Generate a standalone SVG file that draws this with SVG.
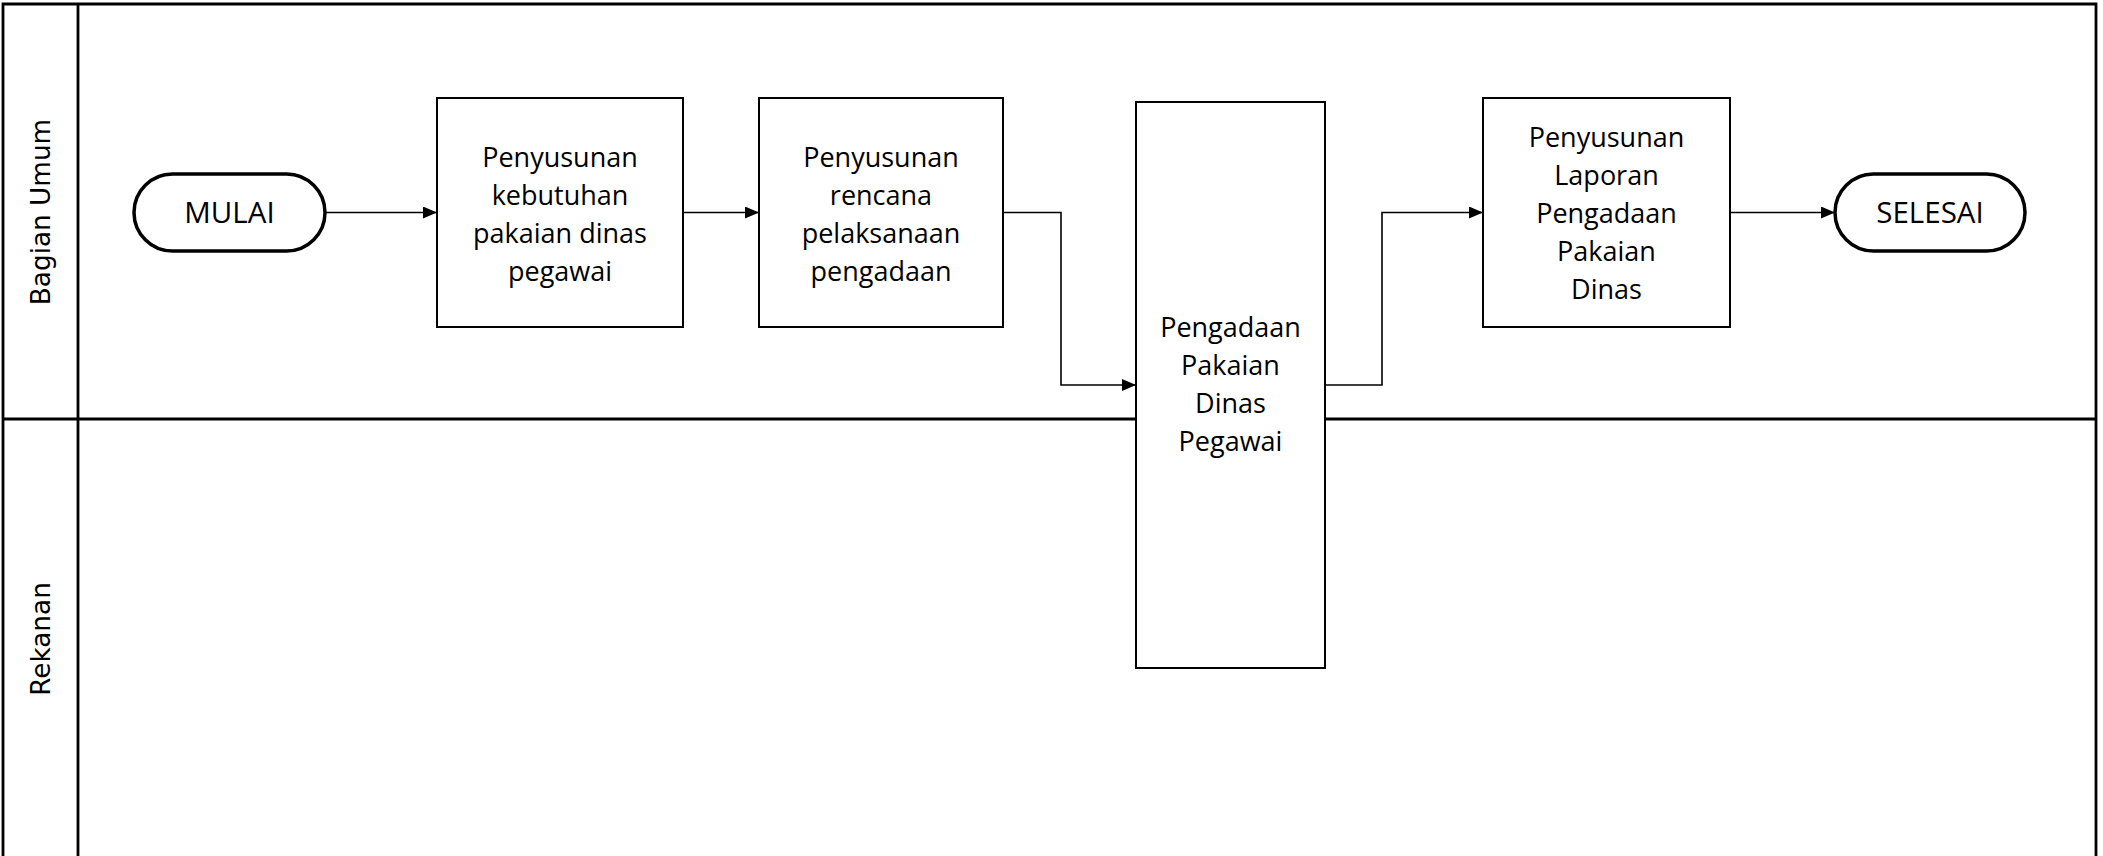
<svg xmlns="http://www.w3.org/2000/svg" width="2103" height="856" viewBox="0 0 2103 856">
<style>
.lane{fill:none;stroke:#000;stroke-width:2.8}
.box{fill:#fff;stroke:#000;stroke-width:2}
.term{fill:#fff;stroke:#000;stroke-width:3.5}
.t{font-family:"Open Sans","Liberation Sans",sans-serif;font-size:27px;fill:#000;text-anchor:middle}
.tt{font-family:"Open Sans","Liberation Sans",sans-serif;font-size:29.5px;fill:#000;text-anchor:middle}
.lbl{font-family:"DejaVu Sans",sans-serif;font-size:26.3px;fill:#000;text-anchor:middle}
.c{fill:none;stroke:#000;stroke-width:1.6}
</style>
<defs>
<marker id="arr" viewBox="0 0 14 12" refX="14" refY="6" markerWidth="14" markerHeight="12" markerUnits="userSpaceOnUse" orient="auto">
<path d="M0,0 L14,6 L0,12 Z" fill="#000"/>
</marker>
</defs>
<rect width="2103" height="856" fill="#fff"/>
<g id="pool">
<path class="lane" d="M3,860 V4 H2096 V860"/>
<line class="lane" x1="3" y1="419" x2="2096" y2="419"/>
<line class="lane" x1="78" y1="4" x2="78" y2="860"/>
<text class="lbl" transform="translate(50,212) rotate(-90)">Bagian Umum</text>
<text class="lbl" transform="translate(50,639) rotate(-90)">Rekanan</text>
</g>
<g id="connectors">
<line class="c" x1="325" y1="212.5" x2="437" y2="212.5" marker-end="url(#arr)"/>
<line class="c" x1="683" y1="212.5" x2="759" y2="212.5" marker-end="url(#arr)"/>
<path class="c" d="M1003,212.5 H1061 V385 H1136" marker-end="url(#arr)"/>
<path class="c" d="M1325,385 H1382 V212.5 H1483" marker-end="url(#arr)"/>
<line class="c" x1="1730" y1="212.5" x2="1835" y2="212.5" marker-end="url(#arr)"/>
</g>
<g id="mulai">
<rect class="term" x="134" y="174" width="191" height="77" rx="38.5"/>
<text class="tt" x="229.5" y="223">MULAI</text>
</g>
<g id="kebutuhan">
<rect class="box" x="437" y="98" width="246" height="229"/>
<text class="t" x="560" y="167">Penyusunan</text>
<text class="t" x="560" y="205">kebutuhan</text>
<text class="t" x="560" y="243">pakaian dinas</text>
<text class="t" x="560" y="281">pegawai</text>
</g>
<g id="rencana">
<rect class="box" x="759" y="98" width="244" height="229"/>
<text class="t" x="881" y="167">Penyusunan</text>
<text class="t" x="881" y="205">rencana</text>
<text class="t" x="881" y="243">pelaksanaan</text>
<text class="t" x="881" y="281">pengadaan</text>
</g>
<g id="pengadaan">
<rect class="box" x="1136" y="102" width="189" height="566"/>
<text class="t" x="1230.5" y="337">Pengadaan</text>
<text class="t" x="1230.5" y="375">Pakaian</text>
<text class="t" x="1230.5" y="413">Dinas</text>
<text class="t" x="1230.5" y="451">Pegawai</text>
</g>
<g id="laporan">
<rect class="box" x="1483" y="98" width="247" height="229"/>
<text class="t" x="1606.5" y="147">Penyusunan</text>
<text class="t" x="1606.5" y="185">Laporan</text>
<text class="t" x="1606.5" y="223">Pengadaan</text>
<text class="t" x="1606.5" y="261">Pakaian</text>
<text class="t" x="1606.5" y="299">Dinas</text>
</g>
<g id="selesai">
<rect class="term" x="1835" y="174" width="190" height="77" rx="38.5"/>
<text class="tt" x="1930" y="223">SELESAI</text>
</g>
</svg>
